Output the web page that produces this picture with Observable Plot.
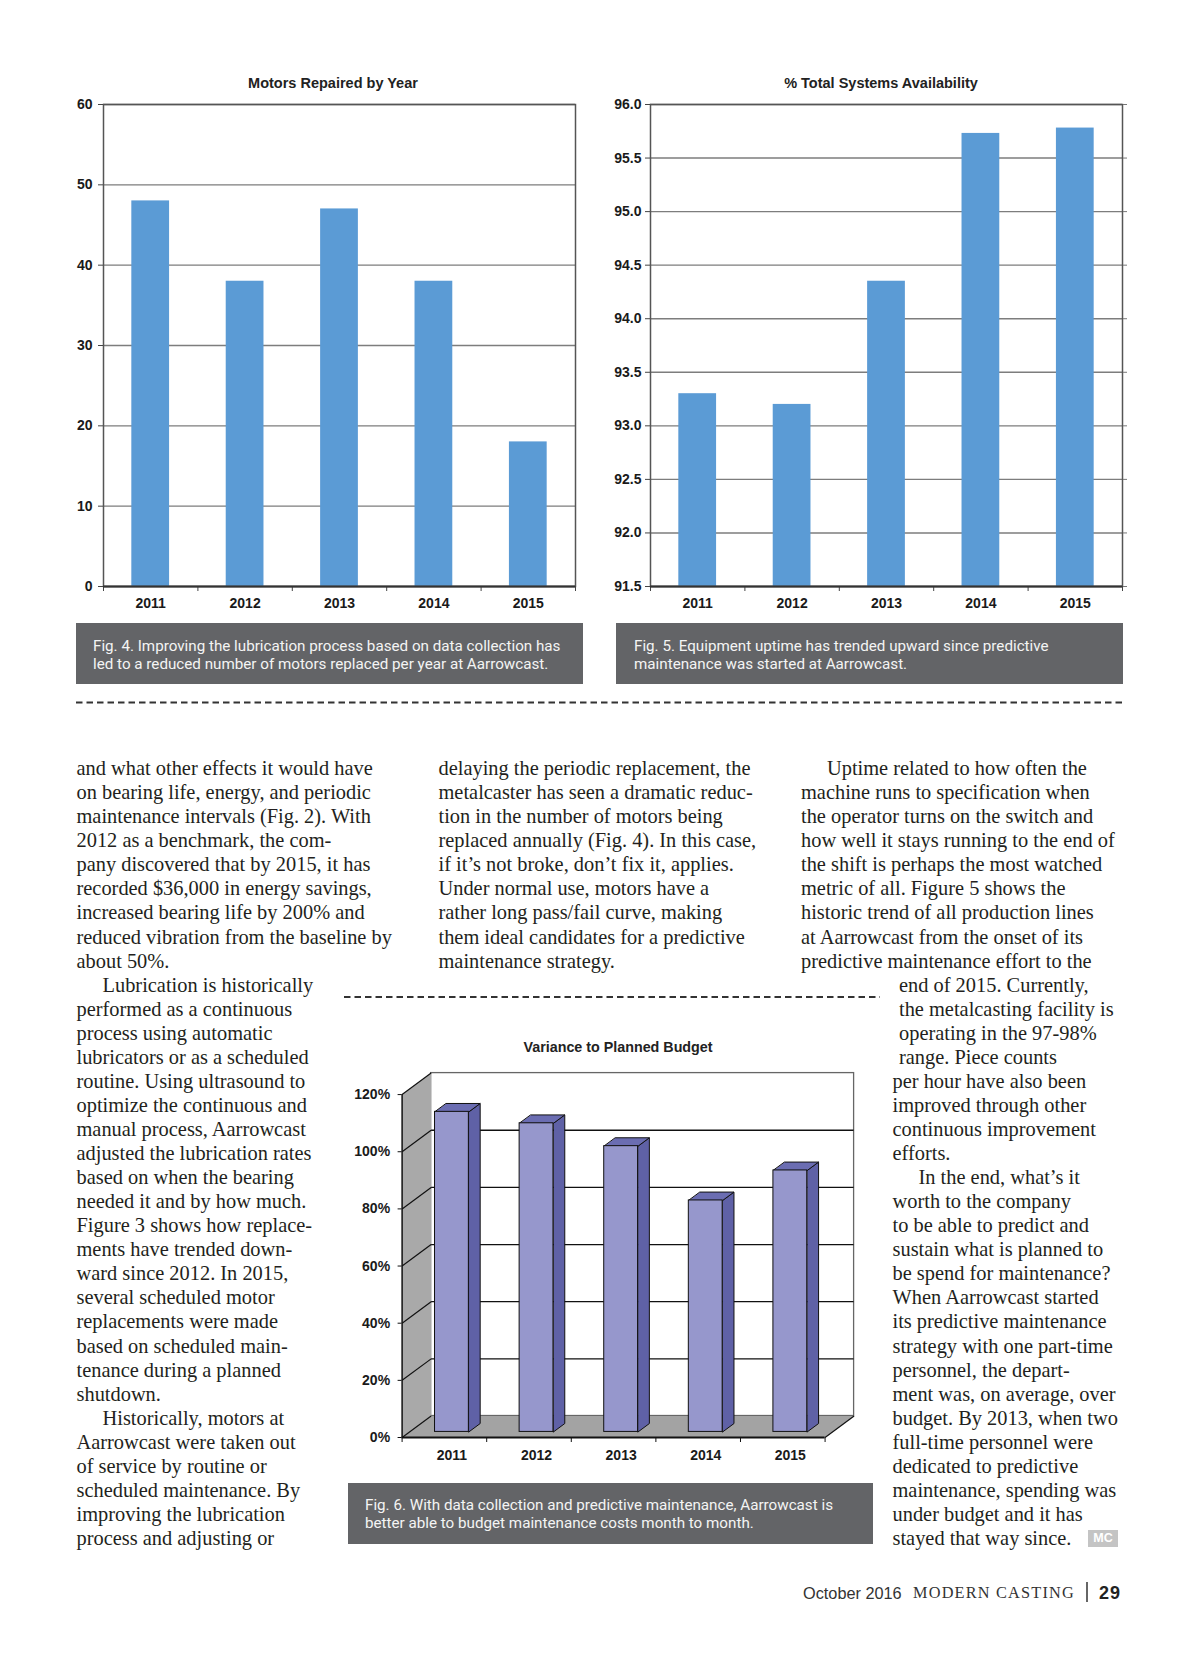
<!DOCTYPE html>
<html><head><meta charset="utf-8">
<script src="https://cdn.jsdelivr.net/npm/d3@7"></script>
<script src="https://cdn.jsdelivr.net/npm/@observablehq/plot@0.6"></script>
<style>
html,body{margin:0;padding:0;background:#fff;}
#page{position:relative;width:1200px;height:1657px;overflow:hidden;background:#fff;}
.chart{position:absolute;}
.ctitle{position:absolute;font-family:"Liberation Sans",Arial,sans-serif;font-weight:bold;font-size:14.5px;color:#222;transform:translate(-50%,-50%);white-space:nowrap;}
.capbox{position:absolute;background:#636467;}
.capline{position:absolute;font-family:Roboto,"Liberation Sans",sans-serif;font-size:15.2px;line-height:18.5px;color:#f4f4f4;white-space:pre;}
.line{position:absolute;font-family:"Liberation Serif","Times New Roman",serif;font-size:20.4px;line-height:24px;white-space:pre;color:#231f20;}
</style></head>
<body><div id="page"></div>
<script>
// ---------- DATA ----------
const years = ["2011", "2012", "2013", "2014", "2015"];
const motorsRepaired = [48, 38, 47, 38, 18];
const availability = [93.3, 93.2, 94.35, 95.73, 95.78];
const budgetVariance = [112, 108, 100, 81, 91.5];
const motorTicks = [0, 10, 20, 30, 40, 50, 60];
const availTicks = [91.5, 92.0, 92.5, 93.0, 93.5, 94.0, 94.5, 95.0, 95.5, 96.0];
const budgetTicks = [0, 20, 40, 60, 80, 100, 120];

const chartTitles = ["Motors Repaired by Year", "% Total Systems Availability", "Variance to Planned Budget"];
const captions = [
  ["Fig. 4. Improving the lubrication process based on data collection has", "led to a reduced number of motors replaced per year at Aarrowcast."],
  ["Fig. 5. Equipment uptime has trended upward since predictive", "maintenance was started at Aarrowcast."],
  ["Fig. 6. With data collection and predictive maintenance, Aarrowcast is", "better able to budget maintenance costs month to month."]
];

const col1Lines = [
"and what other effects it would have",
"on bearing life, energy, and periodic",
"maintenance intervals (Fig. 2). With",
"2012 as a benchmark, the com-",
"pany discovered that by 2015, it has",
"recorded $36,000 in energy savings,",
"increased bearing life by 200% and",
"reduced vibration from the baseline by",
"about 50%.",
"\tLubrication is historically",
"performed as a continuous",
"process using automatic",
"lubricators or as a scheduled",
"routine. Using ultrasound to",
"optimize the continuous and",
"manual process, Aarrowcast",
"adjusted the lubrication rates",
"based on when the bearing",
"needed it and by how much.",
"Figure 3 shows how replace-",
"ments have trended down-",
"ward since 2012. In 2015,",
"several scheduled motor",
"replacements were made",
"based on scheduled main-",
"tenance during a planned",
"shutdown.",
"\tHistorically, motors at",
"Aarrowcast were taken out",
"of service by routine or",
"scheduled maintenance. By",
"improving the lubrication",
"process and adjusting or"
];
const col2Lines = [
"delaying the periodic replacement, the",
"metalcaster has seen a dramatic reduc-",
"tion in the number of motors being",
"replaced annually (Fig. 4). In this case,",
"if it\u2019s not broke, don\u2019t fix it, applies.",
"Under normal use, motors have a",
"rather long pass/fail curve, making",
"them ideal candidates for a predictive",
"maintenance strategy."
];
const col3aLines = [
"\tUptime related to how often the",
"machine runs to specification when",
"the operator turns on the switch and",
"how well it stays running to the end of",
"the shift is perhaps the most watched",
"metric of all. Figure 5 shows the",
"historic trend of all production lines",
"at Aarrowcast from the onset of its",
"predictive maintenance effort to the"
];
const col3bLines = [
"end of 2015. Currently,",
"the metalcasting facility is",
"operating in the 97-98%",
"range. Piece counts"
];
const col3cLines = [
"per hour have also been",
"improved through other",
"continuous improvement",
"efforts.",
"\tIn the end, what\u2019s it",
"worth to the company",
"to be able to predict and",
"sustain what is planned to",
"be spend for maintenance?",
"When Aarrowcast started",
"its predictive maintenance",
"strategy with one part-time",
"personnel, the depart-",
"ment was, on average, over",
"budget. By 2013, when two",
"full-time personnel were",
"dedicated to predictive",
"maintenance, spending was",
"under budget and it has",
"stayed that way since."
];

// ---------- helpers ----------
const page = document.getElementById("page");
function place(el, left, top) { el.style.position = "absolute"; el.style.left = left + "px"; el.style.top = top + "px"; page.appendChild(el); return el; }
function addTitle(text, cx, cy, size) { const d = document.createElement("div"); d.className = "ctitle"; d.textContent = text; if (size) d.style.fontSize = size + "px"; d.style.left = cx + "px"; d.style.top = cy + "px"; page.appendChild(d); }
function addCaption(lines, x, y, w, h, textLeft, baseline1) {
  const b = document.createElement("div"); b.className = "capbox";
  b.style.width = w + "px"; b.style.height = h + "px"; place(b, x, y);
  lines.forEach((t, k) => { const d = document.createElement("div"); d.className = "capline"; d.textContent = t; place(d, textLeft, baseline1 + k * 18.5 - 14.6); });
}
const BASE = 775, LINE = 24.06;
function renderLines(lines, left, startRow) {
  lines.forEach((t, k) => {
    const d = document.createElement("div"); d.className = "line";
    const ind = t.startsWith("\t");
    d.textContent = ind ? t.slice(1) : t;
    place(d, left + (ind ? 26 : 0), BASE + (startRow + k) * LINE - 18.9);
  });
}
const chartStyle = {background: "transparent", fontFamily: "'Liberation Sans', Arial, sans-serif", fontSize: "14px", fontWeight: "bold", color: "#1a1a1a", overflow: "visible"};
const barHalf = 0.2;

// ---------- Chart 1 ----------
const motorData = years.map((year, i) => ({year, i, value: motorsRepaired[i]}));
const chart1 = Plot.plot({
  width: 530, height: 526, marginLeft: 43, marginRight: 15, marginTop: 8, marginBottom: 36,
  x: {domain: [0, years.length]},
  y: {domain: [0, 60]},
  style: chartStyle,
  marks: [
    Plot.ruleY(motorTicks, {stroke: "#7d7d7d", strokeWidth: 1.4}),
    Plot.rect(motorData, {x1: d => d.i + 0.5 - barHalf, x2: d => d.i + 0.5 + barHalf, y1: 0, y2: "value", fill: "#5b9bd5"}),
    Plot.frame({stroke: "#555", strokeWidth: 1.5}),
    Plot.axisY({ticks: motorTicks, tickSize: 5, tickPadding: 6, label: null, stroke: "#444"}),
    Plot.axisX({ticks: d3.range(0, years.length + 1), tickSize: 5, tickFormat: () => "", label: null, stroke: "#444"}),
    Plot.ruleY([0], {stroke: "#333", strokeWidth: 2}),
    Plot.text(motorData, {x: d => d.i + 0.5, y: 0, text: "year", dy: 17})
  ]
});
chart1.classList.add("chart"); place(chart1, 60, 96);
addTitle(chartTitles[0], 333, 83);

// ---------- Chart 2 ----------
const availData = years.map((year, i) => ({year, i, value: availability[i]}));
const chart2 = Plot.plot({
  width: 540, height: 526, marginLeft: 50, marginRight: 18, marginTop: 8, marginBottom: 36,
  x: {domain: [0, years.length]},
  y: {domain: [91.5, 96]},
  style: chartStyle,
  marks: [
    Plot.ruleY(availTicks, {stroke: "#7d7d7d", strokeWidth: 1.4}),
    Plot.rect(availData, {x1: d => d.i + 0.5 - barHalf, x2: d => d.i + 0.5 + barHalf, y1: 91.5, y2: "value", fill: "#5b9bd5"}),
    Plot.frame({stroke: "#555", strokeWidth: 1.5}),
    Plot.axisY({ticks: availTicks, tickSize: 5, tickPadding: 4, tickFormat: d => d.toFixed(1), label: null, stroke: "#444"}),
    Plot.axisY({anchor: "right", ticks: availTicks, tickSize: 4, tickFormat: () => "", label: null, stroke: "#777"}),
    Plot.axisX({ticks: d3.range(0, years.length + 1), tickSize: 5, tickFormat: () => "", label: null, stroke: "#444"}),
    Plot.ruleY([91.5], {stroke: "#333", strokeWidth: 2}),
    Plot.text(availData, {x: d => d.i + 0.5, y: 91.5, text: "year", dy: 17})
  ]
});
chart2.classList.add("chart"); place(chart2, 600, 96);
addTitle(chartTitles[1], 881, 83);

// ---------- Chart 3 (3-D columns) ----------
const DX = 0.343, DY = 7.52;       // depth of the box, in data units
const F1 = 0.26, F2 = 0.65;        // front / back plane of the columns within the depth
const yMax = budgetTicks[budgetTicks.length - 1];
const nYears = years.length;
const budgetData = years.map((year, i) => ({year, i, value: budgetVariance[i]}));
const poly = (id, pts) => pts.map(([x, y]) => ({id, x, y}));
const leftWall = poly("wall", [[0, 0], [0, yMax], [DX, yMax + DY], [DX, DY]]);
const floor = poly("floor", [[0, 0], [nYears, 0], [nYears + DX, DY], [DX, DY]]);
const topFaces = budgetData.flatMap(d => {
  const xl = d.i + 0.5 - barHalf, xr = d.i + 0.5 + barHalf;
  return poly(d.year, [[xl + F1 * DX, d.value + F1 * DY], [xr + F1 * DX, d.value + F1 * DY], [xr + F2 * DX, d.value + F2 * DY], [xl + F2 * DX, d.value + F2 * DY]]);
});
const sideFaces = budgetData.flatMap(d => {
  const xr = d.i + 0.5 + barHalf;
  return poly(d.year, [[xr + F1 * DX, F1 * DY], [xr + F2 * DX, F2 * DY], [xr + F2 * DX, d.value + F2 * DY], [xr + F1 * DX, d.value + F1 * DY]]);
});
const chart3 = Plot.plot({
  width: 520, height: 420, marginLeft: 61.6, marginRight: 6.4, marginTop: 12.6, marginBottom: 43,
  x: {domain: [0, nYears + DX]},
  y: {domain: [0, yMax + DY]},
  style: chartStyle,
  marks: [
    Plot.rect([0], {x1: DX, x2: nYears + DX, y1: DY, y2: yMax + DY, fill: "white", stroke: "#666", strokeWidth: 1.3}),
    Plot.ruleY(budgetTicks.filter(t => t > 0 && t < yMax), {y: d => d + DY, x1: DX, x2: nYears + DX, stroke: "#111", strokeWidth: 1.3}),
    Plot.line(leftWall, {x: "x", y: "y", fill: "#a9a9a9", stroke: "none", curve: "linear-closed"}),
    Plot.line(floor, {x: "x", y: "y", fill: "#a3a3a3", stroke: "none", curve: "linear-closed"}),
    Plot.link(budgetTicks, {x1: 0, y1: d => d, x2: DX, y2: d => d + DY, stroke: "#111", strokeWidth: 1.2}),
    Plot.link([0], {x1: nYears, y1: 0, x2: nYears + DX, y2: DY, stroke: "#111", strokeWidth: 1.2}),
    Plot.ruleX([0], {y1: 0, y2: yMax, stroke: "#111", strokeWidth: 1.5}),
    Plot.ruleY([0], {x1: 0, x2: nYears, stroke: "#111", strokeWidth: 2}),
    Plot.line(sideFaces, {x: "x", y: "y", z: "id", fill: "#5f61a6", stroke: "#111", strokeWidth: 1, curve: "linear-closed"}),
    Plot.line(topFaces, {x: "x", y: "y", z: "id", fill: "#6b6db2", stroke: "#111", strokeWidth: 1, curve: "linear-closed"}),
    Plot.rect(budgetData, {x1: d => d.i + 0.5 - barHalf + F1 * DX, x2: d => d.i + 0.5 + barHalf + F1 * DX, y1: F1 * DY, y2: d => d.value + F1 * DY, fill: "#9697cc", stroke: "#111", strokeWidth: 1}),
    Plot.axisY({ticks: budgetTicks, tickSize: 4, tickPadding: 8, tickFormat: d => d + "%", label: null, stroke: "#111"}),
    Plot.axisX({ticks: d3.range(0, nYears + 1), tickSize: 5, tickFormat: () => "", label: null, stroke: "#111"}),
    Plot.text(budgetData, {x: d => d.i + 0.5 + F1 * DX, y: 0, text: "year", dy: 18})
  ]
});
chart3.classList.add("chart"); place(chart3, 340, 1060);
addTitle(chartTitles[2], 618, 1047, 14.3);

// ---------- captions ----------
addCaption(captions[0], 76, 623, 507, 61, 93, 651.5);
addCaption(captions[1], 616, 623, 507, 61, 634, 651.5);
addCaption(captions[2], 348, 1483, 525, 61, 365, 1510.5);

// ---------- dashed rules ----------
const svgNS = "http://www.w3.org/2000/svg";
const deco = document.createElementNS(svgNS, "svg");
deco.setAttribute("width", 1200); deco.setAttribute("height", 1657);
deco.style.position = "absolute"; deco.style.left = "0px"; deco.style.top = "0px"; deco.style.pointerEvents = "none";
[[76, 1123, 702.5], [344, 880, 997]].forEach(([x1, x2, y]) => {
  const l = document.createElementNS(svgNS, "line");
  l.setAttribute("x1", x1); l.setAttribute("x2", x2); l.setAttribute("y1", y); l.setAttribute("y2", y);
  l.setAttribute("stroke", "#333"); l.setAttribute("stroke-width", 2); l.setAttribute("stroke-dasharray", "6.5 4");
  deco.appendChild(l);
});
const vb = document.createElementNS(svgNS, "line");
vb.setAttribute("x1", 1087); vb.setAttribute("x2", 1087); vb.setAttribute("y1", 1582); vb.setAttribute("y2", 1602);
vb.setAttribute("stroke", "#333"); vb.setAttribute("stroke-width", 1.5);
deco.appendChild(vb);
page.appendChild(deco);

// ---------- body text ----------
renderLines(col1Lines, 76.5, 0);
renderLines(col2Lines, 438.5, 0);
renderLines(col3aLines, 801, 0);
renderLines(col3bLines, 899, 9);
renderLines(col3cLines, 892.5, 13);

// MC end mark
const mc = document.createElement("div");
mc.textContent = "MC";
Object.assign(mc.style, {width: "30px", height: "17px", background: "#c4c4c4", color: "#fff", fontFamily: "'Liberation Sans', Arial, sans-serif", fontWeight: "bold", fontSize: "12.5px", lineHeight: "17px", textAlign: "center"});
place(mc, 1088, 1530);

// ---------- footer ----------
const f1 = document.createElement("div");
f1.textContent = "October 2016";
Object.assign(f1.style, {fontFamily: "'Liberation Sans', Arial, sans-serif", fontSize: "16.3px", color: "#333", lineHeight: "20px", whiteSpace: "nowrap"});
place(f1, 803, 1583);
const f2 = document.createElement("div");
f2.textContent = "MODERN CASTING";
Object.assign(f2.style, {fontFamily: "'Liberation Serif', serif", fontSize: "16.3px", color: "#333", lineHeight: "20px", letterSpacing: "1.2px", whiteSpace: "nowrap"});
place(f2, 913, 1583);
const f3 = document.createElement("div");
f3.textContent = "29";
Object.assign(f3.style, {fontFamily: "'Liberation Sans', Arial, sans-serif", fontWeight: "bold", fontSize: "18px", color: "#222", lineHeight: "20px", letterSpacing: "1px", whiteSpace: "nowrap"});
place(f3, 1099, 1583);
</script></body></html>
